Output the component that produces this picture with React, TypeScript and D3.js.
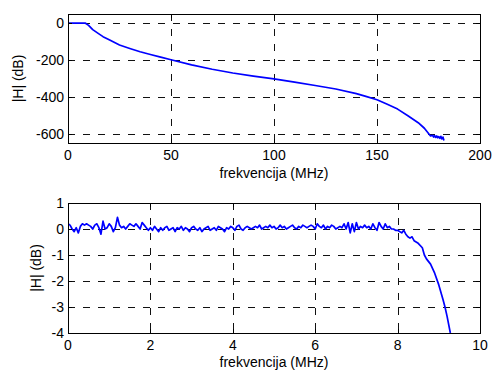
import * as d3 from "d3";

// gornji graf: |H| (dB) za 0-200 MHz
const topFreq = [0, 8.5, 10, 12, 15, 17, 20, 25, 30, 35, 40, 45, 50, 60, 70, 80, 90, 100, 110, 120, 130, 140, 145, 150, 155, 160, 165, 170, 173, 175.5, 176, 177, 177.5, 178, 178.5, 179, 179.5, 180, 180.5, 181, 181.5, 182, 182.5];
const topGain = [0, 0, -12, -35, -58, -73, -90, -118, -137, -155, -170, -184, -198, -226, -250, -270, -287, -302, -320, -338, -357, -382, -398, -415, -440, -466, -502, -540, -570, -605, -612, -608, -618, -610, -620, -612, -622, -615, -625, -614, -628, -618, -637];

// donji graf: propusni opseg 0-10 MHz, korak 0.05 MHz do 8 MHz
const passband = [
  0.2, 0.15, 0.0, -0.1, 0.05, -0.15, 0.1, 0.2, 0.15, 0.2, 0.15, 0.1, 0.0, 0.15, 0.2, 0.05, -0.2, 0.3, 0.0, 0.05,
  0.2, 0.1, -0.1, 0.05, 0.45, 0.15, 0.05, 0.1, 0.0, 0.1, 0.2, 0.15, 0.1, 0.2, 0.1, 0.0, 0.25, 0.15, 0.05, -0.05,
  0.05, -0.05, 0.1, 0.0, -0.1, 0.05, -0.05, 0.05, 0.1, -0.05, 0.0, 0.05, -0.1, 0.05, 0.0, 0.1, -0.05, 0.05, 0.0, -0.1,
  0.05, 0.1, 0.0, -0.05, 0.05, -0.1, 0.0, 0.05, 0.1, -0.05, 0.0, 0.05, -0.05, 0.1, 0.05, 0.0, -0.1, 0.05, 0.0, 0.1,
  0.05, -0.05, 0.1, 0.15, 0.0, -0.05, 0.05, 0.1, 0.05, 0.0, 0.05, 0.1, 0.05, 0.15, 0.0, 0.05, 0.1, 0.05, 0.15, 0.05,
  0.1, 0.0, 0.05, 0.15, 0.05, 0.1, 0.0, 0.05, 0.1, 0.15, 0.05, 0.0, 0.1, 0.05, 0.15, 0.1, 0.05, 0.1, 0.15, 0.1,
  0.0, 0.2, 0.1, 0.05, 0.15, 0.0, 0.1, 0.05, 0.15, 0.1, 0.0, 0.05, 0.1, 0.05, 0.2, 0.0, 0.25, -0.15, 0.2, -0.1,
  0.25, 0.0, 0.1, 0.05, 0.15, 0.05, 0.1, 0.0, 0.2, 0.05, -0.05, 0.25, 0.1, 0.0, 0.2, 0.05, 0.1, 0.0, 0.0, -0.05,
];
const rolloffFreq = [8.0, 8.1, 8.15, 8.2, 8.25, 8.3, 8.35, 8.4, 8.5, 8.6, 8.65, 8.7, 8.8, 8.9, 9.0, 9.1, 9.15, 9.2, 9.28];
const rolloffGain = [-0.05, -0.15, -0.05, -0.2, -0.3, -0.35, -0.3, -0.45, -0.55, -0.72, -1.0, -1.15, -1.35, -1.7, -2.15, -2.7, -3.0, -3.35, -4.0];

const topXTicks = [0, 50, 100, 150, 200];
const topYTicks = [0, -200, -400, -600];
const botXTicks = [0, 2, 4, 6, 8, 10];
const botYTicks = [1, 0, -1, -2, -3, -4];

const FONT = "'Liberation Sans', Arial, sans-serif";

type PanelProps = {
  id: string;
  top: number;
  bottom: number;
  xDomain: [number, number];
  yDomain: [number, number];
  xTicks: number[];
  yTicks: number[];
  points: [number, number][];
};

const left = 68;
const right = 480;
const crisp = (v: number) => Math.round(v) + 0.5;

function Panel({ id, top, bottom, xDomain, yDomain, xTicks, yTicks, points }: PanelProps) {
  const x = d3.scaleLinear().domain(xDomain).range([left, right]);
  const y = d3.scaleLinear().domain(yDomain).range([bottom, top]);
  const line = d3
    .line<[number, number]>()
    .x((d) => x(d[0]))
    .y((d) => y(d[1]));

  return (
    <g>
      <defs>
        <clipPath id={id}>
          <rect x={left} y={top} width={right - left} height={bottom - top} />
        </clipPath>
      </defs>
      {/* mreza */}
      {xTicks.slice(1, -1).map((t) => (
        <line key={"gx" + t} x1={crisp(x(t))} x2={crisp(x(t))} y1={top} y2={bottom} stroke="#111" strokeWidth={1} strokeDasharray="7,8" />
      ))}
      {yTicks
        .filter((t) => y(t) > top + 1 && y(t) < bottom - 1)
        .map((t) => (
          <line key={"gy" + t} x1={left} x2={right} y1={crisp(y(t))} y2={crisp(y(t))} stroke="#111" strokeWidth={1} strokeDasharray="7,8" />
        ))}
      <path d={line(points) ?? ""} fill="none" stroke="#0000ff" strokeWidth={1.7} clipPath={`url(#${id})`} strokeLinejoin="round" />
      <rect x={left + 0.5} y={top + 0.5} width={right - left} height={bottom - top} fill="none" stroke="#000" strokeWidth={1} />
      {xTicks.map((t) => (
        <g key={"tx" + t}>
          <line x1={crisp(x(t))} x2={crisp(x(t))} y1={bottom} y2={bottom - 4} stroke="#000" />
          <line x1={crisp(x(t))} x2={crisp(x(t))} y1={top} y2={top + 4} stroke="#000" />
          <text x={x(t)} y={bottom + 17} textAnchor="middle" fontSize={14} fontFamily={FONT}>
            {t}
          </text>
        </g>
      ))}
      {yTicks.map((t) => (
        <g key={"ty" + t}>
          <line x1={left} x2={left + 4} y1={crisp(y(t))} y2={crisp(y(t))} stroke="#000" />
          <line x1={right} x2={right - 4} y1={crisp(y(t))} y2={crisp(y(t))} stroke="#000" />
          <text x={left - 4} y={y(t)} dy="0.36em" textAnchor="end" fontSize={14} fontFamily={FONT}>
            {t}
          </text>
        </g>
      ))}
    </g>
  );
}

export default function App() {
  const topPoints: [number, number][] = topFreq.map((f, i) => [f, topGain[i]]);
  const botPoints: [number, number][] = passband
    .map((g, i) => [i * 0.05, g] as [number, number])
    .concat(rolloffFreq.map((f, i) => [f, rolloffGain[i]] as [number, number]));

  return (
    <svg
      width={492}
      height={370}
      style={{ position: "absolute", left: 0, top: 0, background: "#fff" }}
    >
      <rect width={492} height={370} fill="#fff" />
      <Panel
        id="clipTop"
        top={14}
        bottom={143}
        xDomain={[0, 200]}
        yDomain={[-650, 50]}
        xTicks={topXTicks}
        yTicks={topYTicks}
        points={topPoints}
      />
      <text x={274} y={178} textAnchor="middle" fontSize={14} fontFamily={FONT}>
        frekvencija (MHz)
      </text>
      <text transform="translate(23,78.5) rotate(-90)" textAnchor="middle" fontSize={14} fontFamily={FONT}>
        |H| (dB)
      </text>

      <Panel
        id="clipBot"
        top={203}
        bottom={333}
        xDomain={[0, 10]}
        yDomain={[-4, 1]}
        xTicks={botXTicks}
        yTicks={botYTicks}
        points={botPoints}
      />
      <text x={274} y={367} textAnchor="middle" fontSize={14} fontFamily={FONT}>
        frekvencija (MHz)
      </text>
      <text transform="translate(41,268) rotate(-90)" textAnchor="middle" fontSize={14} fontFamily={FONT}>
        |H| (dB)
      </text>
    </svg>
  );
}
